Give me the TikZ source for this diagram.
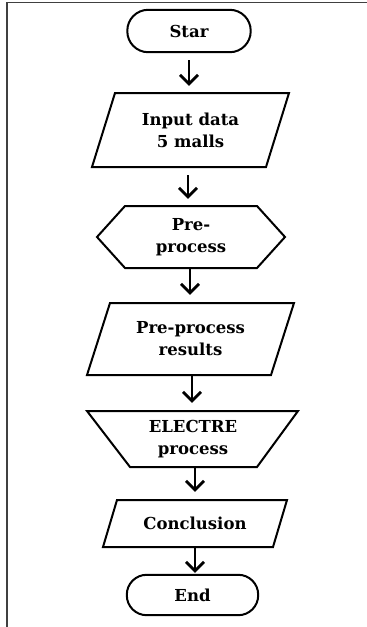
\documentclass[tikz,border=0pt]{standalone}
\usepackage{fontspec}
\setmainfont{DejaVu Serif}
\usetikzlibrary{arrows.meta,calc}
\begin{document}
\begin{tikzpicture}[x=1pt,y=-1pt,
  lbl/.style={font=\bfseries\fontsize{16.5}{22}\selectfont, align=center, inner sep=0pt},
  shapeline/.style={line width=2pt, line join=miter},
  arr/.style={line width=2.8pt, -{Straight Barb[length=9pt,width=18pt]}}]
\useasboundingbox (0,0) rectangle (367,627);
% frame
\draw[line width=1.6pt, black!75] (367,2.5) -- (7,2.5) -- (7,627);
% nodes
\node[lbl, minimum width=123pt, minimum height=42pt] (start) at (189,31) {Star};
\node[lbl, minimum width=197pt, minimum height=74pt] (input) at (190.5,130) {Input data\\5 malls};
\node[lbl, minimum width=188pt, minimum height=62pt] (pre) at (191,237) {Pre-\\process};
\node[lbl, minimum width=207pt, minimum height=72pt] (res) at (190.5,339) {Pre-process\\results};
\node[lbl, minimum width=211pt, minimum height=56pt] (elec) at (193,439) {ELECTRE\\process};
\node[lbl, minimum width=184pt, minimum height=47pt] (conc) at (195,523.5) {Conclusion};
\node[lbl, minimum width=131pt, minimum height=40pt] (end) at (192.5,595) {End};
% outlines
\draw[shapeline, rounded corners=20.9pt] (start.north west) rectangle (start.south east);
\draw[shapeline, shift={(input.center)}] (-75.5,-37) -- (98.5,-37) -- (75.5,37) -- (-98.5,37) -- cycle;
\draw[shapeline, shift={(pre.center)}] (-94,0) -- (-66,-31) -- (66,-31) -- (94,0) -- (66,31) -- (-66,31) -- cycle;
\draw[shapeline, shift={(res.center)}] (-80.5,-36) -- (103.5,-36) -- (80.5,36) -- (-103.5,36) -- cycle;
\draw[shapeline, shift={(elec.center)}] (-106,-28) -- (105,-28) -- (64,28) -- (-63,28) -- cycle;
\draw[shapeline, shift={(conc.center)}] (-78,-23.5) -- (92,-23.5) -- (78,23.5) -- (-92,23.5) -- cycle;
\draw[shapeline, rounded corners=19.9pt] (end.north west) rectangle (end.south east);
% arrows
\draw[arr, shorten <=8pt, shorten >=7pt] (start.south) -- (start.south |- input.north);
\draw[arr, shorten <=8pt, shorten >=7pt] ([xshift=-2.5pt]input.south) -- ([xshift=-2.5pt]input.south |- pre.north);
\draw[arr, shorten >=8pt] ([xshift=-1pt]pre.south) -- ([xshift=-1pt]pre.south |- res.north);
\draw[arr, shorten >=8pt] ([xshift=1.5pt]res.south) -- ([xshift=1.5pt]res.south |- elec.north);
\draw[arr, shorten >=8pt] ([xshift=2pt]elec.south) -- ([xshift=2pt]elec.south |- conc.north);
\draw[arr, shorten >=2pt] (conc.south) -- (conc.south |- end.north);
\end{tikzpicture}
\end{document}
